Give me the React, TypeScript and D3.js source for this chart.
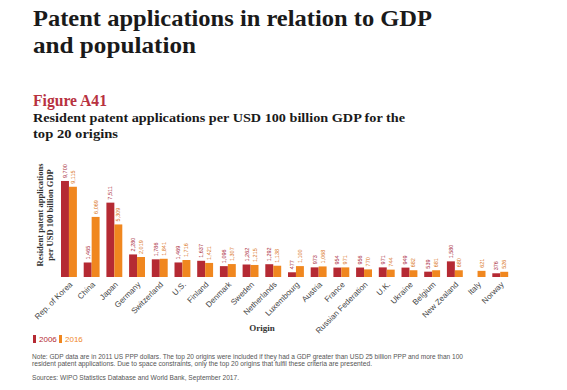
import React from "react";
import * as d3 from "d3";

const origins = ["Rep. of Korea","China","Japan","Germany","Switzerland","U.S.","Finland","Denmark","Sweden","Netherlands","Luxembourg","Austria","France","Russian Federation","U.K.","Ukraine","Belgium","New Zealand","Italy","Norway"];
const values2006: (number | null)[] = [9700,1465,7511,2280,1786,1469,1637,1096,1262,1292,477,973,954,956,971,949,539,1580,null,376];
const values2016: (number | null)[] = [9115,6069,5309,2019,1841,1716,1421,1307,1215,1138,1100,1068,971,770,744,682,681,680,621,526];
const seriesNames = ["2006","2016"];
const colors = ["#b52a33","#f0871f"];
const labelColors = ["#a82a3a","#d9741a"];

const fmt = d3.format(",");

export default function App() {
  const W = 567, H = 390;
  const baseY = 277;
  const x = d3.scaleBand<string>().domain(origins).range([57.6, 511.6]).paddingInner(0.3).paddingOuter(0.15);
  const sub = d3.scaleBand<string>().domain(seriesNames).range([0, x.bandwidth()]);
  const y = d3.scaleLinear().domain([0, 10000]).range([baseY, 178]);
  const serif = "'Liberation Serif', 'DejaVu Serif', serif";
  const sans = "'Liberation Sans', Arial, sans-serif";
  const series = [values2006, values2016];

  return (
    <svg width={W} height={H} style={{ position: "absolute", left: 0, top: 0, background: "#fff" }}>
      <text x={33} y={26} fontFamily={serif} fontWeight="bold" fontSize={23} fill="#1a1a1a" textLength={399} lengthAdjust="spacingAndGlyphs">Patent applications in relation to GDP</text>
      <text x={33} y={53} fontFamily={serif} fontWeight="bold" fontSize={23} fill="#1a1a1a" textLength={163} lengthAdjust="spacingAndGlyphs">and population</text>
      <text x={33} y={106} fontFamily={serif} fontWeight="bold" fontSize={16} fill="#b8323f" textLength={74} lengthAdjust="spacingAndGlyphs">Figure A41</text>
      <text x={33} y={122} fontFamily={serif} fontWeight="bold" fontSize={13} fill="#1a1a1a" textLength={372} lengthAdjust="spacingAndGlyphs">Resident patent applications per USD 100 billion GDP for the</text>
      <text x={33} y={138} fontFamily={serif} fontWeight="bold" fontSize={13} fill="#1a1a1a" textLength={85} lengthAdjust="spacingAndGlyphs">top 20 origins</text>

      <g transform="translate(43,215) rotate(-90)">
        <text x={0} y={0} textAnchor="middle" fontFamily={serif} fontWeight="bold" fontSize={8.5} fill="#333">Resident patent applications</text>
        <text x={0} y={10} textAnchor="middle" fontFamily={serif} fontWeight="bold" fontSize={8.5} fill="#333">per USD 100 billion GDP</text>
      </g>

      {origins.map((o, i) => (
        <g key={o} transform={`translate(${x(o)},0)`}>
          {series.map((s, j) => {
            const v = s[i];
            if (v == null) return null;
            const bx = sub(seriesNames[j])!;
            const bw = sub.bandwidth();
            return (
              <g key={j}>
                <rect x={bx} y={y(v)} width={bw} height={baseY - y(v)} fill={colors[j]} />
                <text transform={`translate(${bx + bw / 2 + 2},${y(v) - 3}) rotate(-90)`} fontFamily={sans} fontSize={5.5} fill={labelColors[j]}>{fmt(v)}</text>
              </g>
            );
          })}
          <text transform={`translate(${x.bandwidth() / 2 + 4},${baseY + 8}) rotate(-45)`} textAnchor="end" fontFamily={sans} fontSize={8} fill="#444">{o}</text>
        </g>
      ))}

      <text x={262} y={331} textAnchor="middle" fontFamily={serif} fontWeight="bold" fontSize={9} fill="#333">Origin</text>

      <rect x={33} y={335} width={3} height={8} fill={colors[0]} />
      <text x={39} y={342} fontFamily={sans} fontSize={8} fill={colors[0]}>{seriesNames[0]}</text>
      <rect x={59} y={335} width={3} height={8} fill={colors[1]} />
      <text x={65} y={342} fontFamily={sans} fontSize={8} fill={colors[1]}>{seriesNames[1]}</text>

      <text x={32} y={359} fontFamily={sans} fontSize={6.6} fill="#555" textLength={431} lengthAdjust="spacingAndGlyphs">Note: GDP data are in 2011 US PPP dollars. The top 20 origins were included if they had a GDP greater than USD 25 billion PPP and more than 100</text>
      <text x={32} y={366} fontFamily={sans} fontSize={6.6} fill="#555" textLength={340} lengthAdjust="spacingAndGlyphs">resident patent applications. Due to space constraints, only the top 20 origins that fulfil these criteria are presented.</text>
      <text x={32} y={380} fontFamily={sans} fontSize={6.6} fill="#555" textLength={207} lengthAdjust="spacingAndGlyphs">Sources: WIPO Statistics Database and World Bank, September 2017.</text>
    </svg>
  );
}
